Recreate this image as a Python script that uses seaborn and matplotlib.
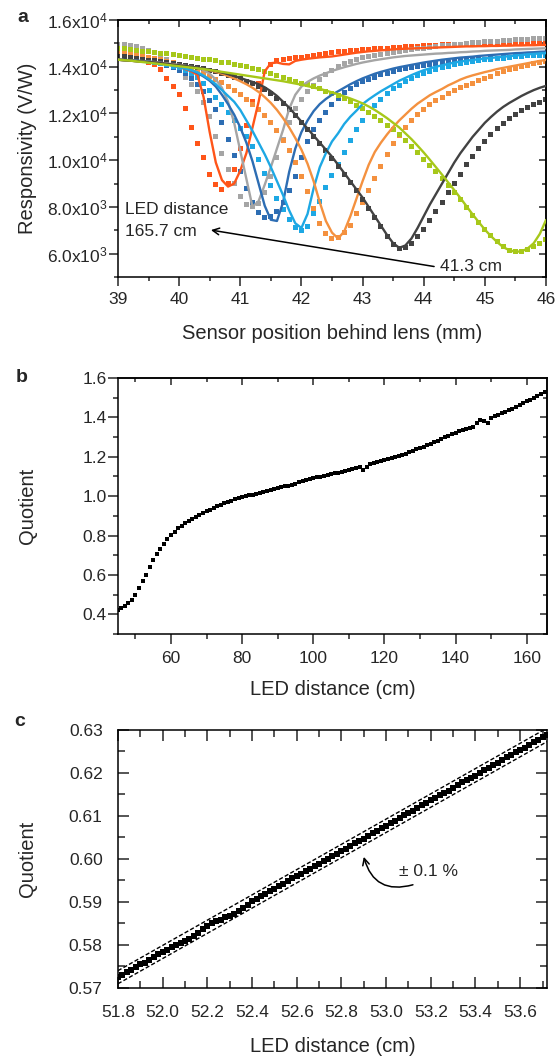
import numpy as np
import pandas as pd
import matplotlib
matplotlib.use("Agg")
import matplotlib.pyplot as plt
import seaborn as sns
from matplotlib.ticker import MultipleLocator, FixedLocator, FormatStrFormatter

# ---- panel a: responsivity vs sensor position (values in 10^3 V/W) ----
POS_MM = [39.0, 39.1, 39.2, 39.3, 39.4, 39.5, 39.6, 39.7, 39.8, 39.9,
          40.0, 40.1, 40.2, 40.3, 40.4, 40.5, 40.6, 40.7, 40.8, 40.9,
          41.0, 41.1, 41.2, 41.3, 41.4, 41.5, 41.6, 41.7, 41.8, 41.9,
          42.0, 42.1, 42.2, 42.3, 42.4, 42.5, 42.6, 42.7, 42.8, 42.9,
          43.0, 43.1, 43.2, 43.3, 43.4, 43.5, 43.6, 43.7, 43.8, 43.9,
          44.0, 44.1, 44.2, 44.3, 44.4, 44.5, 44.6, 44.7, 44.8, 44.9,
          45.0, 45.1, 45.2, 45.3, 45.4, 45.5, 45.6, 45.7, 45.8, 45.9,
          46.0]

RED_FIT = [14.30, 14.28, 14.26, 14.24, 14.22, 14.20, 14.17, 14.14, 14.10, 14.05,
           13.98, 13.90, 13.80, 13.65, 12.70, 11.20, 9.90, 9.15, 8.87, 9.00,
           9.55, 10.30, 11.40, 12.50, 13.80, 14.15, 14.18, 14.12, 14.10, 14.25,
           14.30, 14.34, 14.37, 14.40, 14.42, 14.44, 14.48, 14.52, 14.56, 14.60,
           14.63, 14.66, 14.68, 14.70, 14.72, 14.74, 14.76, 14.77, 14.78, 14.79,
           14.80, 14.81, 14.82, 14.83, 14.84, 14.85, 14.86, 14.87, 14.87, 14.88,
           14.88, 14.89, 14.89, 14.90, 14.90, 14.91, 14.91, 14.92, 14.92, 14.93,
           14.93]
RED_MEAS = [14.40, 14.37, 14.34, 14.30, 14.26, 14.20, 14.10, 13.90, 13.50, 13.15,
            12.80, 12.20, 11.40, 10.70, 10.10, 9.40, 8.95, 8.75, 9.00, 9.60,
            10.50, 11.50, 12.50, 13.30, 13.80, 14.10, 14.25, 14.30, 14.35, 14.38,
            14.40, 14.44, 14.48, 14.52, 14.56, 14.60, 14.63, 14.66, 14.69, 14.71,
            14.72, 14.74, 14.76, 14.78, 14.80, 14.82, 14.84, 14.85, 14.86, 14.88,
            14.90, 14.91, 14.92, 14.93, 14.94, 14.95, 14.96, 14.96, 14.97, 14.97,
            14.97, 14.98, 14.98, 14.98, 14.99, 14.99, 14.99, 15.00, 15.00, 15.00,
            15.00]

GREY_FIT = [14.30, 14.28, 14.27, 14.25, 14.24, 14.22, 14.20, 14.17, 14.14, 14.11,
            14.08, 14.04, 14.00, 13.95, 13.85, 13.70, 13.45, 13.10, 12.50, 11.60,
            10.40, 9.20, 8.00, 8.25, 8.95, 9.70, 10.50, 11.30, 12.20, 12.80,
            13.15, 13.35, 13.50, 13.62, 13.72, 13.82, 13.90, 13.98, 14.05, 14.12,
            14.18, 14.23, 14.28, 14.32, 14.36, 14.40, 14.43, 14.46, 14.48, 14.50,
            14.52, 14.54, 14.56, 14.57, 14.59, 14.60, 14.62, 14.63, 14.65, 14.66,
            14.68, 14.69, 14.70, 14.71, 14.72, 14.74, 14.75, 14.76, 14.77, 14.78,
            14.79]
GREY_MEAS = [14.95, 14.93, 14.90, 14.85, 14.78, 14.70, 14.60, 14.47, 14.30, 14.10,
             13.85, 13.55, 13.25, 12.95, 12.45, 11.86, 11.00, 10.30, 9.60, 9.00,
             8.45, 8.10, 8.00, 8.15, 8.60, 9.30, 10.10, 10.90, 11.60, 12.20,
             12.60, 12.95, 13.20, 13.45, 13.65, 13.85, 14.00, 14.12, 14.22, 14.30,
             14.38, 14.43, 14.48, 14.52, 14.56, 14.60, 14.64, 14.68, 14.72, 14.76,
             14.80, 14.83, 14.86, 14.89, 14.92, 14.95, 14.97, 15.00, 15.02, 15.04,
             15.07, 15.08, 15.10, 15.12, 15.13, 15.15, 15.16, 15.18, 15.19, 15.21,
             15.22]

DBLUE_FIT = [14.30, 14.29, 14.28, 14.26, 14.24, 14.22, 14.19, 14.16, 14.12, 14.07,
             14.01, 13.93, 13.84, 13.73, 13.58, 13.40, 13.15, 12.80, 12.40, 11.95,
             11.40, 10.75, 9.95, 9.00, 8.05, 7.45, 7.40, 8.20, 9.50, 10.50,
             11.20, 11.70, 12.10, 12.40, 12.62, 12.80, 12.95, 13.10, 13.25, 13.38,
             13.50, 13.60, 13.70, 13.78, 13.85, 13.92, 13.98, 14.03, 14.08, 14.13,
             14.18, 14.22, 14.26, 14.30, 14.33, 14.36, 14.39, 14.41, 14.43, 14.46,
             14.48, 14.50, 14.52, 14.54, 14.56, 14.58, 14.59, 14.61, 14.62, 14.64,
             14.65]
DBLUE_MEAS = [14.40, 14.38, 14.35, 14.33, 14.30, 14.25, 14.20, 14.13, 14.05, 13.95,
              13.85, 13.70, 13.50, 13.25, 12.95, 12.55, 12.15, 11.60, 10.90, 10.20,
              9.50, 8.80, 8.20, 7.75, 7.55, 7.60, 7.80, 8.20, 8.70, 9.30,
              10.10, 10.80, 11.30, 11.70, 12.05, 12.40, 12.65, 12.90, 13.08, 13.22,
              13.35, 13.46, 13.56, 13.65, 13.73, 13.80, 13.86, 13.92, 13.97, 14.02,
              14.06, 14.10, 14.13, 14.16, 14.19, 14.22, 14.25, 14.27, 14.29, 14.31,
              14.33, 14.35, 14.37, 14.39, 14.41, 14.43, 14.44, 14.46, 14.47, 14.49,
              14.50]

LBLUE_FIT = [14.30, 14.28, 14.26, 14.24, 14.22, 14.20, 14.17, 14.13, 14.09, 14.04,
             13.98, 13.92, 13.85, 13.76, 13.62, 13.45, 13.25, 13.00, 12.75, 12.50,
             12.15, 11.70, 11.25, 10.75, 10.25, 9.70, 9.10, 8.50, 7.85, 7.30,
             7.10, 7.70, 8.80, 9.70, 10.30, 10.80, 11.15, 11.55, 11.86, 12.12,
             12.40, 12.60, 12.78, 12.95, 13.10, 13.25, 13.40, 13.52, 13.64, 13.75,
             13.85, 13.93, 14.00, 14.06, 14.12, 14.18, 14.22, 14.26, 14.29, 14.32,
             14.35, 14.38, 14.40, 14.43, 14.45, 14.48, 14.50, 14.53, 14.55, 14.57,
             14.58]
LBLUE_MEAS = [14.40, 14.38, 14.35, 14.32, 14.28, 14.24, 14.20, 14.15, 14.10, 14.03,
              13.95, 13.85, 13.70, 13.55, 13.30, 13.00, 12.70, 12.40, 12.05, 11.70,
              11.35, 11.00, 10.60, 10.05, 9.45, 8.90, 8.35, 7.90, 7.45, 7.10,
              7.00, 7.15, 7.70, 8.25, 8.85, 9.35, 9.80, 10.35, 10.85, 11.30,
              11.70, 12.05, 12.35, 12.60, 12.85, 13.05, 13.20, 13.35, 13.50, 13.62,
              13.72, 13.80, 13.88, 13.95, 14.02, 14.08, 14.13, 14.18, 14.22, 14.26,
              14.30, 14.32, 14.35, 14.37, 14.40, 14.42, 14.44, 14.46, 14.47, 14.49,
              14.50]

ORANGE_FIT = [14.30, 14.28, 14.26, 14.24, 14.22, 14.20, 14.18, 14.15, 14.12, 14.09,
              14.05, 14.02, 13.98, 13.94, 13.90, 13.85, 13.78, 13.70, 13.60, 13.50,
              13.38, 13.25, 13.10, 12.92, 12.70, 12.45, 12.15, 11.80, 11.40, 10.95,
              10.45, 9.85, 9.10, 8.20, 7.40, 6.90, 6.65, 6.95, 7.60, 8.35,
              9.10, 9.80, 10.35, 10.75, 11.10, 11.42, 11.70, 11.95, 12.20, 12.42,
              12.60, 12.78, 12.92, 13.05, 13.20, 13.32, 13.45, 13.55, 13.63, 13.70,
              13.77, 13.83, 13.90, 13.95, 14.00, 14.05, 14.10, 14.15, 14.20, 14.25,
              14.29]
ORANGE_MEAS = [14.60, 14.57, 14.53, 14.49, 14.45, 14.40, 14.35, 14.30, 14.24, 14.18,
               14.10, 14.02, 13.93, 13.83, 13.72, 13.60, 13.47, 13.33, 13.17, 13.00,
               12.80, 12.60, 12.38, 12.15, 11.90, 11.60, 11.25, 10.85, 10.40, 9.90,
               9.30, 8.65, 7.95, 7.30, 6.85, 6.65, 6.70, 6.90, 7.20, 7.70,
               8.20, 8.70, 9.20, 9.75, 10.25, 10.70, 11.05, 11.40, 11.70, 11.95,
               12.17, 12.38, 12.55, 12.70, 12.85, 12.98, 13.10, 13.20, 13.30, 13.40,
               13.50, 13.60, 13.72, 13.80, 13.87, 13.93, 14.00, 14.06, 14.12, 14.17,
               14.22]

DGREY_FIT = [14.30, 14.28, 14.26, 14.24, 14.22, 14.20, 14.18, 14.15, 14.12, 14.09,
             14.06, 14.03, 14.00, 13.96, 13.92, 13.87, 13.82, 13.75, 13.68, 13.60,
             13.52, 13.43, 13.35, 13.25, 13.12, 12.95, 12.75, 12.50, 12.25, 11.95,
             11.65, 11.35, 11.05, 10.75, 10.45, 10.15, 9.80, 9.45, 9.10, 8.75,
             8.40, 8.00, 7.60, 7.20, 6.80, 6.45, 6.25, 6.35, 6.65, 7.10,
             7.60, 8.10, 8.55, 9.00, 9.45, 9.90, 10.30, 10.65, 11.00, 11.30,
             11.60, 11.85, 12.08, 12.28, 12.45, 12.60, 12.75, 12.88, 13.00, 13.10,
             13.18]
DGREY_MEAS = [14.45, 14.42, 14.38, 14.35, 14.32, 14.28, 14.25, 14.21, 14.17, 14.13,
              14.09, 14.05, 14.01, 13.96, 13.91, 13.85, 13.79, 13.72, 13.64, 13.56,
              13.48, 13.38, 13.28, 13.16, 13.02, 12.85, 12.65, 12.42, 12.17, 11.90,
              11.60, 11.30, 11.00, 10.70, 10.40, 10.08, 9.75, 9.40, 9.05, 8.70,
              8.33, 7.95, 7.55, 7.15, 6.75, 6.40, 6.22, 6.25, 6.45, 6.75,
              7.05, 7.40, 7.80, 8.20, 8.60, 9.00, 9.40, 9.80, 10.15, 10.50,
              10.80, 11.10, 11.35, 11.58, 11.78, 11.96, 12.12, 12.26, 12.38, 12.48,
              12.58]

LIME_FIT = [14.30, 14.28, 14.26, 14.23, 14.20, 14.17, 14.14, 14.11, 14.08, 14.05,
            14.02, 13.99, 13.96, 13.93, 13.90, 13.86, 13.82, 13.78, 13.74, 13.70,
            13.66, 13.62, 13.58, 13.54, 13.50, 13.46, 13.42, 13.38, 13.33, 13.28,
            13.23, 13.17, 13.11, 13.05, 12.98, 12.90, 12.82, 12.73, 12.64, 12.54,
            12.43, 12.30, 12.15, 11.98, 11.80, 11.60, 11.40, 11.15, 10.90, 10.62,
            10.33, 10.02, 9.70, 9.38, 9.05, 8.72, 8.38, 8.03, 7.68, 7.35,
            7.03, 6.75, 6.50, 6.28, 6.15, 6.08, 6.10, 6.22, 6.45, 6.85,
            7.44]
LIME_MEAS = [14.80, 14.77, 14.73, 14.70, 14.67, 14.64, 14.61, 14.58, 14.55, 14.52,
             14.49, 14.45, 14.41, 14.37, 14.33, 14.29, 14.25, 14.20, 14.16, 14.11,
             14.06, 14.00, 13.94, 13.87, 13.80, 13.72, 13.64, 13.55, 13.47, 13.38,
             13.30, 13.22, 13.14, 13.05, 12.95, 12.85, 12.75, 12.63, 12.50, 12.36,
             12.22, 12.05, 11.88, 11.70, 11.50, 11.30, 11.08, 10.85, 10.60, 10.33,
             10.05, 9.78, 9.50, 9.20, 8.90, 8.60, 8.30, 7.98, 7.65, 7.35,
             7.05, 6.78, 6.52, 6.30, 6.15, 6.08, 6.10, 6.18, 6.30, 6.45,
             6.60]

CURVE_NAMES = ["red", "grey", "dblue", "lblue", "orange", "dgrey", "lime"]
CURVE_COLORS = ["#FF5519", "#A5A5A5", "#2D6DB3", "#1DA8E4", "#F4913F", "#424242", "#A7C81A"]
FIT_SERIES = [RED_FIT, GREY_FIT, DBLUE_FIT, LBLUE_FIT, ORANGE_FIT, DGREY_FIT, LIME_FIT]
MEAS_SERIES = [RED_MEAS, GREY_MEAS, DBLUE_MEAS, LBLUE_MEAS, ORANGE_MEAS, DGREY_MEAS, LIME_MEAS]

RESP_TICKS = [6000, 8000, 10000, 12000, 14000, 16000]
RESP_TICK_LABELS = ["6.0x10$^{3}$", "8.0x10$^{3}$", "1.0x10$^{4}$",
                    "1.2x10$^{4}$", "1.4x10$^{4}$", "1.6x10$^{4}$"]

# ---- panel b: quotient vs LED distance (1 cm steps) ----
LED_CM = [45, 46, 47, 48, 49, 50, 51, 52, 53, 54, 55, 56, 57, 58, 59, 60, 61, 62, 63, 64,
          65, 66, 67, 68, 69, 70, 71, 72, 73, 74, 75, 76, 77, 78, 79, 80, 81, 82, 83, 84,
          85, 86, 87, 88, 89, 90, 91, 92, 93, 94, 95, 96, 97, 98, 99, 100, 101, 102, 103, 104,
          105, 106, 107, 108, 109, 110, 111, 112, 113, 114, 115, 116, 117, 118, 119, 120, 121, 122, 123, 124,
          125, 126, 127, 128, 129, 130, 131, 132, 133, 134, 135, 136, 137, 138, 139, 140, 141, 142, 143, 144,
          145, 146, 147, 148, 149, 150, 151, 152, 153, 154, 155, 156, 157, 158, 159, 160, 161, 162, 163, 164,
          165]
QUOTIENT_B = [0.422, 0.432, 0.443, 0.456, 0.475, 0.500, 0.533, 0.567, 0.602, 0.640,
              0.676, 0.705, 0.731, 0.757, 0.781, 0.803, 0.820, 0.836, 0.850, 0.862,
              0.873, 0.884, 0.895, 0.905, 0.914, 0.923, 0.932, 0.941, 0.950, 0.957,
              0.964, 0.971, 0.977, 0.983, 0.989, 0.994, 0.999, 1.004, 1.008, 1.012,
              1.016, 1.020, 1.024, 1.029, 1.034, 1.039, 1.044, 1.049, 1.054, 1.059,
              1.064, 1.070, 1.075, 1.080, 1.085, 1.091, 1.095, 1.099, 1.103, 1.107,
              1.111, 1.115, 1.119, 1.124, 1.129, 1.134, 1.139, 1.143, 1.146, 1.134,
              1.150, 1.162, 1.167, 1.173, 1.178, 1.184, 1.189, 1.194, 1.199, 1.204,
              1.210, 1.216, 1.223, 1.230, 1.237, 1.244, 1.251, 1.258, 1.266, 1.274,
              1.282, 1.290, 1.298, 1.306, 1.314, 1.322, 1.330, 1.337, 1.343, 1.348,
              1.352, 1.372, 1.389, 1.382, 1.372, 1.398, 1.405, 1.412, 1.420, 1.428,
              1.436, 1.445, 1.454, 1.463, 1.472, 1.481, 1.490, 1.500, 1.510, 1.519,
              1.527]

# ---- panel c: zoom on 51.8 - 53.7 cm ----
LED_CM_C = [51.80, 51.82, 51.84, 51.86, 51.88, 51.90, 51.92, 51.94, 51.96, 51.98,
            52.00, 52.02, 52.04, 52.06, 52.08, 52.10, 52.12, 52.14, 52.16, 52.18,
            52.20, 52.22, 52.24, 52.26, 52.28, 52.30, 52.32, 52.34, 52.36, 52.38,
            52.40, 52.42, 52.44, 52.46, 52.48, 52.50, 52.52, 52.54, 52.56, 52.58,
            52.60, 52.62, 52.64, 52.66, 52.68, 52.70, 52.72, 52.74, 52.76, 52.78,
            52.80, 52.82, 52.84, 52.86, 52.88, 52.90, 52.92, 52.94, 52.96, 52.98,
            53.00, 53.02, 53.04, 53.06, 53.08, 53.10, 53.12, 53.14, 53.16, 53.18,
            53.20, 53.22, 53.24, 53.26, 53.28, 53.30, 53.32, 53.34, 53.36, 53.38,
            53.40, 53.42, 53.44, 53.46, 53.48, 53.50, 53.52, 53.54, 53.56, 53.58,
            53.60, 53.62, 53.64, 53.66, 53.68, 53.70, 53.72]
QUOTIENT_C = [0.5725, 0.5731, 0.5736, 0.5742, 0.5749, 0.5755, 0.5759, 0.5765, 0.5773, 0.5779,
              0.5783, 0.5789, 0.5796, 0.5800, 0.5805, 0.5810, 0.5815, 0.5821, 0.5829, 0.5838,
              0.5845, 0.5850, 0.5855, 0.5859, 0.5864, 0.5867, 0.5872, 0.5880, 0.5887, 0.5894,
              0.5903, 0.5908, 0.5913, 0.5919, 0.5925, 0.5931, 0.5937, 0.5942, 0.5948, 0.5955,
              0.5961, 0.5966, 0.5972, 0.5977, 0.5983, 0.5989, 0.5995, 0.6001, 0.6007, 0.6012,
              0.6018, 0.6024, 0.6030, 0.6036, 0.6042, 0.6047, 0.6053, 0.6060, 0.6066, 0.6071,
              0.6077, 0.6083, 0.6088, 0.6096, 0.6102, 0.6107, 0.6112, 0.6118, 0.6125, 0.6130,
              0.6136, 0.6142, 0.6148, 0.6153, 0.6159, 0.6165, 0.6172, 0.6178, 0.6183, 0.6189,
              0.6194, 0.6200, 0.6207, 0.6212, 0.6218, 0.6224, 0.6230, 0.6236, 0.6242, 0.6248,
              0.6253, 0.6259, 0.6265, 0.6271, 0.6277, 0.6283, 0.6289]
# linear fit through the points and the +/-0.1 % band (as shift in distance)
FIT_C_X = [51.70, 53.80]
FIT_C_Q = [0.56957, 0.63120]
BAND = 0.001

sns.set_theme(style="ticks")
plt.rcParams["font.family"] = ["Liberation Sans", "DejaVu Sans"]
plt.rcParams["mathtext.fontset"] = "custom"
plt.rcParams["mathtext.rm"] = "Liberation Sans"
plt.rcParams["mathtext.it"] = "Liberation Sans:italic"
plt.rcParams["axes.linewidth"] = 1.1
plt.rcParams["axes.edgecolor"] = "black"

TICK_FS = 12.5
LABEL_FS = 14.5
NOTE_FS = 12.5
YLAB_X = -0.189


def inner_top_right(ax, xmaj, xmin, ymaj, ymin, maj_len=5.0, min_len=3.0):
    """Origin-style: bottom/left ticks out, top/right ticks in."""
    top = ax.secondary_xaxis("top")
    top.xaxis.set_major_locator(xmaj)
    top.xaxis.set_minor_locator(xmin)
    top.tick_params(which="both", direction="in", labeltop=False, width=1.1)
    top.tick_params(which="major", length=maj_len)
    top.tick_params(which="minor", length=min_len)
    right = ax.secondary_yaxis("right")
    right.yaxis.set_major_locator(ymaj)
    right.yaxis.set_minor_locator(ymin)
    right.tick_params(which="both", direction="in", labelright=False, width=1.1)
    right.tick_params(which="major", length=maj_len)
    right.tick_params(which="minor", length=min_len)


fig = plt.figure(figsize=(5.56, 10.57), dpi=100)
ax_a = fig.add_axes([0.2122, 0.7379, 0.7698, 0.2432])
ax_b = fig.add_axes([0.2122, 0.4002, 0.7716, 0.2422])
ax_c = fig.add_axes([0.2122, 0.0653, 0.7716, 0.2441])

# ---------------- panel a ----------------
frames_fit, frames_meas = [], []
for name, fit, meas in zip(CURVE_NAMES, FIT_SERIES, MEAS_SERIES):
    frames_fit.append(pd.DataFrame({"pos": POS_MM, "resp": np.array(fit) * 1000, "curve": name}))
    frames_meas.append(pd.DataFrame({"pos": POS_MM, "resp": np.array(meas) * 1000, "curve": name}))
df_fit = pd.concat(frames_fit, ignore_index=True)
df_meas = pd.concat(frames_meas, ignore_index=True)
palette = dict(zip(CURVE_NAMES, CURVE_COLORS))

sns.scatterplot(data=df_meas, x="pos", y="resp", hue="curve", hue_order=CURVE_NAMES,
                palette=palette, marker="s", s=13, linewidth=0, legend=False,
                ax=ax_a, zorder=2)
sns.lineplot(data=df_fit, x="pos", y="resp", hue="curve", hue_order=CURVE_NAMES,
             palette=palette, estimator=None, sort=False, linewidth=1.7,
             legend=False, ax=ax_a, zorder=3)

ax_a.set_xlim(39, 46)
ax_a.set_ylim(5000, 16000)
ax_a.xaxis.set_major_locator(MultipleLocator(1))
ax_a.xaxis.set_minor_locator(MultipleLocator(0.5))
ax_a.yaxis.set_major_locator(FixedLocator(RESP_TICKS))
ax_a.yaxis.set_minor_locator(MultipleLocator(1000))
ax_a.set_yticklabels(RESP_TICK_LABELS)
ax_a.tick_params(which="both", direction="out", width=1.1, labelsize=TICK_FS)
ax_a.tick_params(which="major", length=6.5)
ax_a.tick_params(which="minor", length=3.2)
ax_a.tick_params(axis="x", pad=4)
ax_a.tick_params(axis="y", pad=1)
inner_top_right(ax_a, MultipleLocator(1), MultipleLocator(0.5),
                FixedLocator(RESP_TICKS), MultipleLocator(1000))
ax_a.set_xlabel("Sensor position behind lens (mm)", fontsize=LABEL_FS)
ax_a.set_ylabel("Responsivity (V/W)", fontsize=LABEL_FS)
ax_a.xaxis.set_label_coords(0.5, -0.183)
ax_a.yaxis.set_label_coords(YLAB_X, 0.5)

ax_a.text(39.12, 7870, "LED distance", fontsize=NOTE_FS, va="center", ha="left")
ax_a.text(39.12, 6950, "165.7 cm", fontsize=NOTE_FS, va="center", ha="left")
ax_a.text(44.27, 5440, "41.3 cm", fontsize=NOTE_FS, va="center", ha="left")
ax_a.annotate("", xy=(40.52, 7010), xytext=(44.17, 5450),
              arrowprops=dict(arrowstyle="->", color="black", lw=1.1,
                              mutation_scale=12, shrinkA=0, shrinkB=0))

# ---------------- panel b ----------------
df_b = pd.DataFrame({"dist": LED_CM, "quot": QUOTIENT_B})
sns.scatterplot(data=df_b, x="dist", y="quot", color="black", marker="s", s=5,
                linewidth=0, legend=False, ax=ax_b, zorder=3)
ax_b.set_xlim(45.1, 165.7)
ax_b.set_ylim(0.3, 1.6)
ax_b.xaxis.set_major_locator(MultipleLocator(20))
ax_b.xaxis.set_minor_locator(MultipleLocator(10))
ax_b.yaxis.set_major_locator(MultipleLocator(0.2))
ax_b.yaxis.set_minor_locator(MultipleLocator(0.1))
ax_b.yaxis.set_major_formatter(FormatStrFormatter("%.1f"))
ax_b.tick_params(which="both", direction="out", width=1.1, labelsize=TICK_FS)
ax_b.tick_params(which="major", length=7)
ax_b.tick_params(which="minor", length=3.6)
ax_b.tick_params(axis="x", pad=5)
ax_b.tick_params(axis="y", pad=1)
inner_top_right(ax_b, MultipleLocator(20), MultipleLocator(10),
                MultipleLocator(0.2), MultipleLocator(0.1), maj_len=5.3, min_len=3)
ax_b.set_xlabel("LED distance (cm)", fontsize=LABEL_FS)
ax_b.set_ylabel("Quotient", fontsize=LABEL_FS)
ax_b.xaxis.set_label_coords(0.5, -0.18)
ax_b.yaxis.set_label_coords(YLAB_X, 0.5)

# ---------------- panel c ----------------
fit_x = np.array(FIT_C_X)
fit_q = np.array(FIT_C_Q)
slope = (fit_q[1] - fit_q[0]) / (fit_x[1] - fit_x[0])
for shift in (-BAND, BAND):
    sns.lineplot(x=fit_x, y=fit_q - slope * fit_x * shift, color="black",
                 linewidth=1.0, linestyle=(0, (3, 1.6)), ax=ax_c, zorder=2)
df_c = pd.DataFrame({"dist": LED_CM_C, "quot": QUOTIENT_C})
sns.scatterplot(data=df_c, x="dist", y="quot", color="black", marker="s", s=18,
                linewidth=0, legend=False, ax=ax_c, zorder=3)
ax_c.set_xlim(51.8, 53.72)
ax_c.set_ylim(0.57, 0.63)
ax_c.xaxis.set_major_locator(MultipleLocator(0.2))
ax_c.xaxis.set_minor_locator(MultipleLocator(0.1))
ax_c.yaxis.set_major_locator(MultipleLocator(0.01))
ax_c.yaxis.set_minor_locator(MultipleLocator(0.005))
ax_c.xaxis.set_major_formatter(FormatStrFormatter("%.1f"))
ax_c.yaxis.set_major_formatter(FormatStrFormatter("%.2f"))
ax_c.tick_params(which="both", direction="in", top=True, right=True, width=1.1,
                 labelsize=TICK_FS)
ax_c.tick_params(which="major", length=8)
ax_c.tick_params(which="minor", length=4.8)
ax_c.tick_params(axis="x", pad=12)
ax_c.tick_params(axis="y", pad=11)
ax_c.set_xlabel("LED distance (cm)", fontsize=LABEL_FS)
ax_c.set_ylabel("Quotient", fontsize=LABEL_FS)
ax_c.xaxis.set_label_coords(0.5, -0.19)
ax_c.yaxis.set_label_coords(YLAB_X, 0.5)
ax_c.text(53.19, 0.5970, "\u00b1 0.1 %", fontsize=NOTE_FS, ha="center", va="center")
ax_c.annotate("", xy=(52.90, 0.6005), xytext=(53.12, 0.5940),
              arrowprops=dict(arrowstyle="->", color="black", lw=1.1, mutation_scale=12,
                              connectionstyle="arc3,rad=-0.5", shrinkA=0, shrinkB=0))

for ax in (ax_a, ax_b, ax_c):
    for sp in ax.spines.values():
        sp.set_visible(True)
        sp.set_linewidth(1.1)
        sp.set_color("black")

fig.text(0.041, 0.983, "a", fontsize=14, fontweight="bold", ha="center", va="center")
fig.text(0.039, 0.6424, "b", fontsize=14, fontweight="bold", ha="center", va="center")
fig.text(0.036, 0.3172, "c", fontsize=14, fontweight="bold", ha="center", va="center")

fig.savefig("out.png", dpi=100)
